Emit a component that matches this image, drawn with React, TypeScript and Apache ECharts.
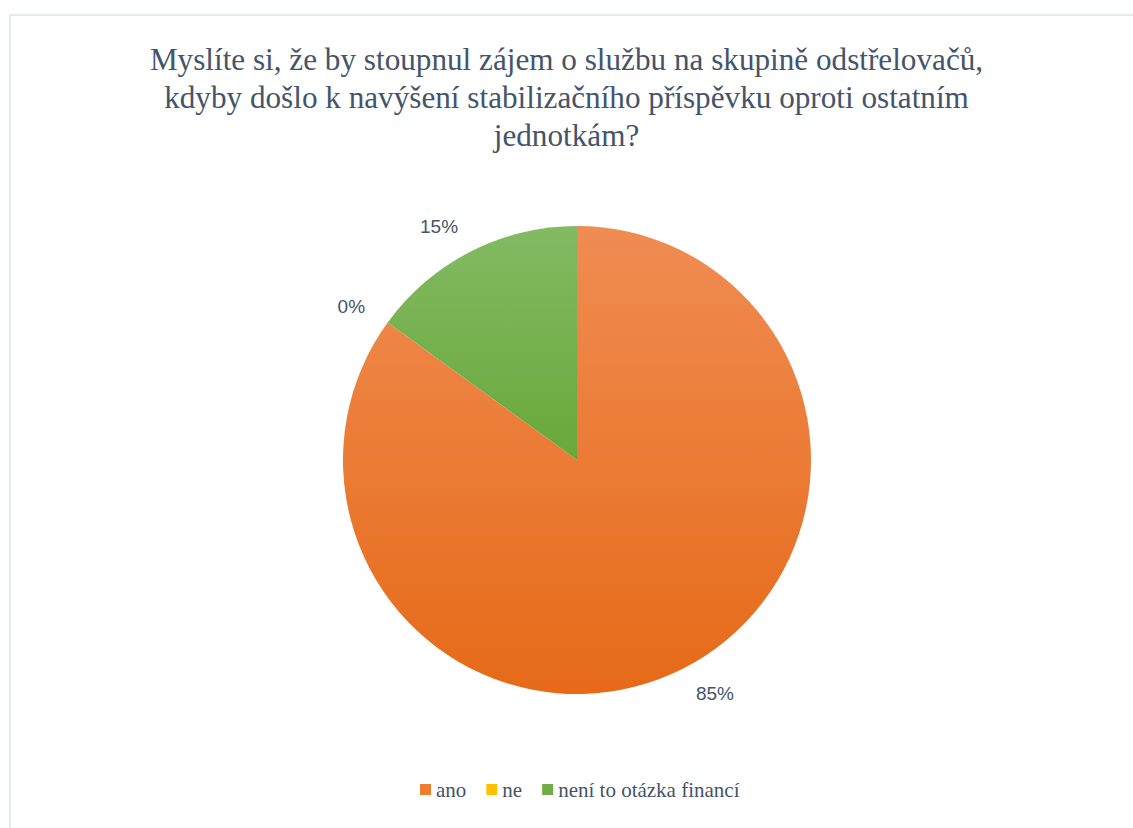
import React, { useEffect, useRef } from "react";
import * as echarts from "echarts";

const titleLines = [
  "Myslíte si, že by stoupnul zájem o službu na skupině odstřelovačů,",
  "kdyby došlo k navýšení stabilizačního příspěvku oproti ostatním",
  "jednotkám?",
];
const categories = ["ano", "ne", "není to otázka financí"];
const values = [85, 0, 15];
const legendColors = ["#ed7d31", "#ffc000", "#70ad47"];
const gradients = [
  ["#f08c52", "#e66a18"],
  ["#ffcc33", "#f0b400"],
  ["#83ba63", "#69a83a"],
];

export default function App() {
  const ref = useRef<HTMLDivElement>(null);
  useEffect(() => {
    if (!ref.current) return;
    const chart = echarts.init(ref.current, null, { renderer: "svg" });
    chart.setOption({
      animation: false,
      backgroundColor: "#ffffff",
      color: legendColors,
      graphic: [
        {
          type: "rect",
          shape: { x: 10, y: 15, width: 1140, height: 840 },
          style: { fill: "none", stroke: "#dde3ea", lineWidth: 1.5 },
          silent: true,
          z: -10,
        },
      ],
      title: {
        text: titleLines.join("\n"),
        left: "center",
        top: 35,
        textStyle: {
          fontFamily: "Liberation Serif",
          fontWeight: "normal",
          fontSize: 31.2,
          lineHeight: 38,
          color: "#44546a",
        },
      },
      legend: {
        top: 774,
        left: 415,
        icon: "rect",
        itemWidth: 11,
        itemHeight: 11,
        itemGap: 20,
        data: categories.map((c, i) => ({ name: c, itemStyle: { color: legendColors[i] } })),
        textStyle: {
          fontFamily: "Liberation Serif",
          fontSize: 21,
          color: "#44546a",
          padding: [0, 0, 0, 0],
        },
      },
      series: [
        {
          type: "pie",
          center: [577, 460],
          radius: 234,
          startAngle: 90,
          clockwise: true,
          avoidLabelOverlap: false,
          stillShowZeroSum: true,
          minShowLabelAngle: 0,
          label: {
            show: true,
            position: "outside",
            formatter: (p: any) => Math.round(p.percent) + "%",
            fontFamily: "Liberation Sans",
            fontSize: 19,
            color: "#44546a",
            distanceToLabelLine: 0,
          },
          labelLine: { show: false, length: 28, length2: 0 },
          itemStyle: { borderWidth: 0 },
          data: categories.map((c, i) => ({
            name: c,
            value: values[i],
            itemStyle: {
              color: new echarts.graphic.LinearGradient(0, 0, 0, 1, [
                { offset: 0, color: gradients[i][0] },
                { offset: 1, color: gradients[i][1] },
              ]),
            },
          })),
        },
      ],
    });
    return () => chart.dispose();
  }, []);
  return (
    <div
      ref={ref}
      style={{ position: "fixed", left: 0, top: 0, width: 1133, height: 828 }}
    />
  );
}
